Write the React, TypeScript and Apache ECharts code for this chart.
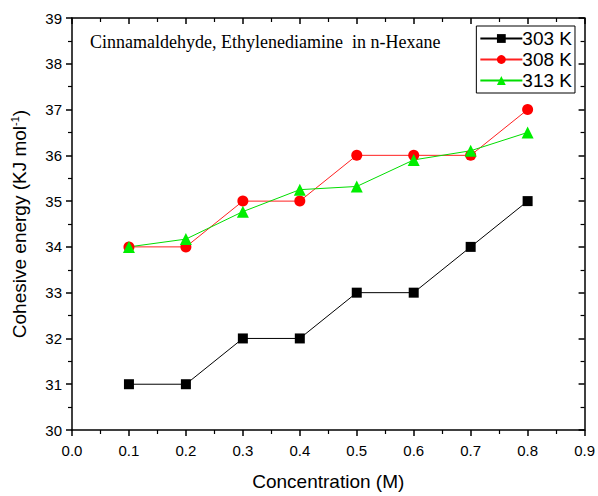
import React, { useEffect, useRef } from "react";
import * as echarts from "echarts";

const concentration = [0.1, 0.2, 0.3, 0.4, 0.5, 0.6, 0.7, 0.8];
const k303 = [31, 31, 32, 32, 33, 33, 34, 35];
const k308 = [34, 34, 35, 35, 36, 36, 36, 37];
const k313 = [34, 34.17, 34.77, 35.25, 35.32, 35.9, 36.1, 36.5];
const seriesNames = ["303 K", "308 K", "313 K"];
const annotation = "Cinnamaldehyde, Ethylenediamine  in n-Hexane";

const pair = (ys: number[]) => concentration.map((x, i) => [x, ys[i]]);

export default function App() {
  const ref = useRef<HTMLDivElement>(null);
  useEffect(() => {
    const chart = echarts.init(ref.current!, null, { renderer: "svg" });
    const font = "Liberation Sans, Arial, sans-serif";
    const axisCommon = {
      axisLine: { show: true, onZero: false, lineStyle: { color: "#000", width: 1.5 } },
      splitLine: { show: false },
    };
    chart.setOption({
      animation: false,
      backgroundColor: "#fff",
      grid: { left: 72, right: 11, top: 18, bottom: 59 },
      legend: {
        orient: "vertical",
        right: 23,
        top: 26,
        itemWidth: 42,
        itemHeight: 11,
        itemGap: 2,
        padding: [3, 3, 3, 3],
        borderColor: "#000",
        borderWidth: 1,
        textStyle: { fontFamily: font, fontSize: 19, color: "#000", padding: [0, 0, 0, -5] },
        data: seriesNames,
      },
      xAxis: [
        {
          type: "value",
          min: 0,
          max: 0.9,
          interval: 0.1,
          ...axisCommon,
          axisTick: { show: true, inside: false, length: 6, lineStyle: { color: "#000", width: 1.5 } },
          minorTick: { show: true, splitNumber: 2, length: 4, lineStyle: { color: "#000", width: 1.2 } },
          axisLabel: { color: "#000", fontFamily: font, fontSize: 15, margin: 13, formatter: (v: number) => v.toFixed(1) },
          name: "Concentration (M)",
          nameLocation: "middle",
          nameGap: 42,
          nameTextStyle: { fontFamily: font, fontSize: 19, color: "#000" },
        },
        {
          type: "value",
          position: "top",
          min: 0,
          max: 0.9,
          interval: 0.1,
          ...axisCommon,
          axisTick: { show: true, inside: true, length: 6, lineStyle: { color: "#000", width: 1.5 } },
          minorTick: { show: true, splitNumber: 2, length: 4, lineStyle: { color: "#000", width: 1.2 } },
          axisLabel: { show: false },
        },
      ],
      yAxis: [
        {
          type: "value",
          min: 30,
          max: 39,
          interval: 1,
          ...axisCommon,
          axisTick: { show: true, inside: false, length: 6, lineStyle: { color: "#000", width: 1.5 } },
          minorTick: { show: true, splitNumber: 2, length: 4, lineStyle: { color: "#000", width: 1.2 } },
          axisLabel: { color: "#000", fontFamily: font, fontSize: 15, margin: 10 },
          name: "{a|Cohesive energy (KJ mol}{s|-1}{a|)}",
          nameLocation: "middle",
          nameGap: 42,
          nameRotate: 90,
          nameTextStyle: {
            color: "#000",
            rich: {
              a: { fontFamily: font, fontSize: 19, color: "#000" },
              s: { fontFamily: font, fontSize: 11, color: "#000", padding: [0, 0, 10, 0] },
            },
          },
        },
        {
          type: "value",
          position: "right",
          min: 30,
          max: 39,
          interval: 1,
          ...axisCommon,
          axisTick: { show: true, inside: true, length: 6, lineStyle: { color: "#000", width: 1.5 } },
          minorTick: { show: true, splitNumber: 2, length: 4, lineStyle: { color: "#000", width: 1.2 } },
          axisLabel: { show: false },
        },
      ],
      graphic: [
        {
          type: "text",
          left: 90,
          top: 33,
          style: {
            text: annotation,
            fontFamily: "Liberation Serif, Times New Roman, serif",
            fontSize: 18,
            fill: "#000",
          },
        },
      ],
      series: [
        {
          name: seriesNames[0],
          type: "line",
          data: pair(k303),
          symbol: "rect",
          symbolSize: 10,
          itemStyle: { color: "#000" },
          lineStyle: { color: "#000", width: 1 },
        },
        {
          name: seriesNames[1],
          type: "line",
          data: pair(k308),
          symbol: "circle",
          symbolSize: 11,
          itemStyle: { color: "#ff0000" },
          lineStyle: { color: "#ff2020", width: 1 },
        },
        {
          name: seriesNames[2],
          type: "line",
          data: pair(k313),
          symbol: "triangle",
          symbolSize: 12,
          itemStyle: { color: "#00ee00" },
          lineStyle: { color: "#00dd00", width: 1 },
        },
      ],
    });
    return () => chart.dispose();
  }, []);
  return <div ref={ref} style={{ width: 598, height: 496, position: "absolute", left: 0, top: 0 }} />;
}
